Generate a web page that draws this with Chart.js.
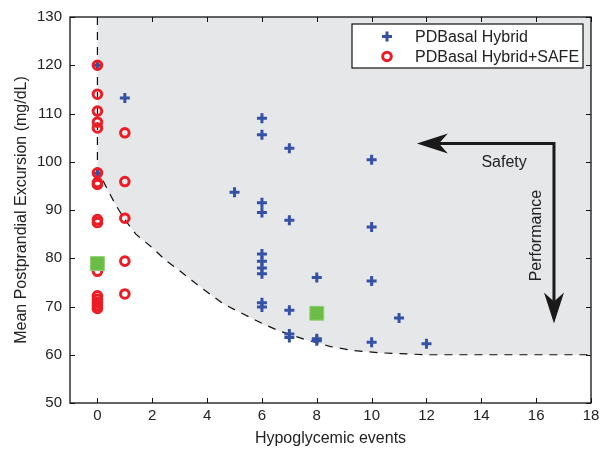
<!DOCTYPE html>
<html>
<head>
<meta charset="utf-8">
<script src="https://cdn.jsdelivr.net/npm/chart.js@4.4.1/dist/chart.umd.min.js"></script>
<style>
  body { margin: 0; background: #fff; }
  canvas { display: block; }
</style>
</head>
<body>
<canvas id="chart-events" width="610" height="456"></canvas>
<script>
// PDBasal Hybrid (blue crosses)
const hybridX = [0, 0, 1, 5, 6, 6, 6, 6, 6, 6, 6, 6, 6, 6, 7, 7, 7, 7, 7, 8, 8, 8, 10, 10, 10, 10, 11, 12];
const hybridY = [120, 97.6, 113.2, 93.7, 109.0, 105.6, 91.5, 89.5, 80.9, 79.4, 78.0, 76.8, 70.8, 69.9,
                 102.8, 87.9, 69.2, 64.3, 63.6, 76.0, 63.3, 62.9, 100.4, 86.5, 75.3, 62.6, 67.6, 62.3];

// PDBasal Hybrid+SAFE (red circles)
const safeX = [0, 0, 0, 0, 0, 0, 0, 0, 0, 0, 0, 0, 0, 0, 0, 0, 0, 1, 1, 1, 1, 1];
const safeY = [120, 114.0, 110.5, 108.2, 107.0, 97.7, 95.7, 95.3, 88.0, 87.4, 79.0, 77.3,
               72.2, 71.5, 70.8, 70.2, 69.6, 106.0, 95.9, 88.3, 79.4, 72.6];

// group means (green squares)
const meanX = [0, 8];
const meanY = [78.9, 68.6];

// dashed boundary of the shaded region
const curveX = [0, 0, 0.1, 0.3, 0.65, 1, 1.4, 2, 2.5, 3, 3.6, 4.6, 5.3, 6, 6.6, 7.5, 8.5, 9.3, 10.3, 12, 18];
const curveY = [130, 98.5, 97.3, 95, 91.2, 88, 85, 82.2, 79.5, 77.4, 74.7, 70.5, 68.5, 66.5, 65, 63.3, 61.7, 60.9, 60.4, 60, 60];

const legendLabels = ['PDBasal Hybrid', 'PDBasal Hybrid+SAFE'];

const BLUE = '#3451a3';
const RED = '#ec1c24';
const GREEN = '#6bbd46';
const FONT = 'Liberation Sans, Arial, Helvetica, sans-serif';

const pts = (xs, ys) => xs.map((v, i) => ({ x: v, y: ys[i] }));

function arrowHead(ctx, tx, ty, dx, dy) {
  // dx,dy = unit direction the arrow points to
  const L = 31, W = 10, N = 22;
  const px = -dy, py = dx;
  ctx.beginPath();
  ctx.moveTo(tx, ty);
  ctx.lineTo(tx - dx * L + px * W, ty - dy * L + py * W);
  ctx.lineTo(tx - dx * N, ty - dy * N);
  ctx.lineTo(tx - dx * L - px * W, ty - dy * L - py * W);
  ctx.closePath();
  ctx.fill();
}

const framePlugin = {
  id: 'frame',
  afterDatasetsDraw(chart) {
    const { ctx, chartArea: a, scales: { x, y } } = chart;
    ctx.save();

    // box + inward ticks
    ctx.strokeStyle = '#111';
    ctx.lineWidth = 1.3;
    ctx.strokeRect(a.left, a.top, a.right - a.left, a.bottom - a.top);
    ctx.lineWidth = 1;
    ctx.beginPath();
    x.ticks.forEach(t => {
      const px = Math.round(x.getPixelForValue(t.value)) + 0.5;
      ctx.moveTo(px, a.bottom); ctx.lineTo(px, a.bottom - 5);
      ctx.moveTo(px, a.top); ctx.lineTo(px, a.top + 5);
    });
    y.ticks.forEach(t => {
      const py = Math.round(y.getPixelForValue(t.value)) + 0.5;
      ctx.moveTo(a.left, py); ctx.lineTo(a.left + 5, py);
      ctx.moveTo(a.right, py); ctx.lineTo(a.right - 5, py);
    });
    ctx.stroke();

    // Safety / Performance arrows
    const cx = x.getPixelForValue(16.65), cy = y.getPixelForValue(103.8);
    const lx = x.getPixelForValue(11.65), by = y.getPixelForValue(66.5);
    ctx.strokeStyle = '#1a1a1a';
    ctx.fillStyle = '#1a1a1a';
    ctx.lineWidth = 3;
    ctx.lineJoin = 'miter';
    ctx.beginPath();
    ctx.moveTo(lx + 22, cy);
    ctx.lineTo(cx, cy);
    ctx.lineTo(cx, by - 22);
    ctx.stroke();
    arrowHead(ctx, lx, cy, -1, 0);
    arrowHead(ctx, cx, by, 0, 1);

    ctx.fillStyle = '#222';
    ctx.font = '16px ' + FONT;
    ctx.textAlign = 'center';
    ctx.textBaseline = 'middle';
    ctx.fillText('Safety', x.getPixelForValue(14.83), y.getPixelForValue(99.9));
    ctx.save();
    ctx.translate(x.getPixelForValue(16.02), y.getPixelForValue(84.7));
    ctx.rotate(-Math.PI / 2);
    ctx.fillText('Performance', 0, 0);
    ctx.restore();

    // legend box
    const bx = a.right - 239, bt = a.top + 7, bw = 231, bh = 44;
    ctx.fillStyle = '#fff';
    ctx.fillRect(bx, bt, bw, bh);
    ctx.strokeStyle = '#111';
    ctx.lineWidth = 1.2;
    ctx.strokeRect(bx, bt, bw, bh);

    const sx = bx + 35;
    const r1 = bt + 12.5, r2 = bt + 32.5;
    ctx.strokeStyle = BLUE;
    ctx.lineWidth = 3;
    ctx.beginPath();
    ctx.moveTo(sx - 5, r1); ctx.lineTo(sx + 5, r1);
    ctx.moveTo(sx, r1 - 5); ctx.lineTo(sx, r1 + 5);
    ctx.stroke();
    ctx.strokeStyle = RED;
    ctx.lineWidth = 3;
    ctx.beginPath();
    ctx.arc(sx, r2, 4.3, 0, Math.PI * 2);
    ctx.stroke();

    ctx.fillStyle = '#222';
    ctx.textAlign = 'left';
    ctx.fillText(legendLabels[0], bx + 63, r1 + 1);
    ctx.fillText(legendLabels[1], bx + 63, r2 + 1);

    ctx.restore();
  }
};

const tickFont = { family: FONT, size: 15 };
const titleFont = { family: FONT, size: 16 };

new Chart(document.getElementById('chart-events'), {
  type: 'scatter',
  data: {
    datasets: [
      {
        type: 'line',
        data: pts(curveX, curveY),
        borderColor: '#111',
        borderWidth: 1.2,
        borderDash: [8, 7],
        backgroundColor: 'rgb(230,231,233)',
        fill: 'end',
        pointRadius: 0,
        tension: 0,
        order: 4
      },
      {
        label: legendLabels[0],
        data: pts(hybridX, hybridY),
        pointStyle: 'cross',
        pointRadius: 5,
        borderWidth: 3,
        borderColor: BLUE,
        backgroundColor: BLUE,
        order: 3
      },
      {
        label: legendLabels[1],
        data: pts(safeX, safeY),
        pointStyle: 'circle',
        pointRadius: 4.3,
        borderWidth: 3,
        borderColor: RED,
        backgroundColor: 'rgba(0,0,0,0)',
        order: 2
      },
      {
        data: pts(meanX, meanY),
        pointStyle: 'rect',
        pointRadius: 9.8,
        borderWidth: 1,
        borderColor: '#8fcf72',
        backgroundColor: GREEN,
        order: 1
      }
    ]
  },
  options: {
    responsive: false,
    animation: false,
    layout: { padding: { top: 16, right: 19, left: 0, bottom: 0 } },
    plugins: {
      legend: { display: false },
      tooltip: { enabled: false }
    },
    scales: {
      x: {
        type: 'linear',
        min: -1,
        max: 18,
        ticks: { stepSize: 2, includeBounds: false, padding: 4, font: tickFont, color: '#222' },
        grid: { display: false, drawTicks: false },
        border: { display: false },
        title: { display: true, text: 'Hypoglycemic events', font: titleFont, color: '#222', padding: { top: 0, bottom: 8 } },
        afterFit(scale) { scale.height = 53; }
      },
      y: {
        type: 'linear',
        min: 50,
        max: 130,
        ticks: { stepSize: 10, padding: 8, font: tickFont, color: '#222' },
        grid: { display: false, drawTicks: false },
        border: { display: false },
        title: { display: true, text: 'Mean Postprandial Excursion (mg/dL)', font: titleFont, color: '#222', padding: { top: 12, bottom: 0 } },
        afterFit(scale) { scale.width = 70; }
      }
    }
  },
  plugins: [framePlugin]
});
</script>
</body>
</html>
